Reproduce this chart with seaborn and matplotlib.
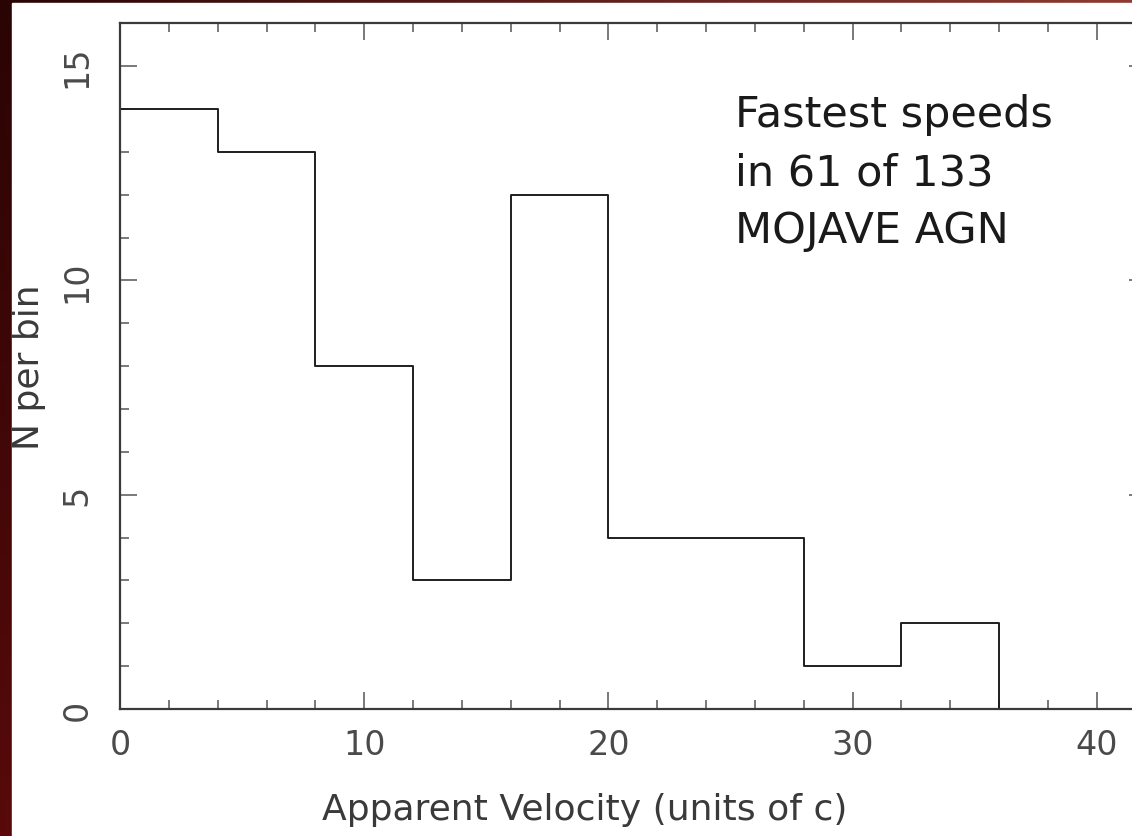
import numpy as np
import pandas as pd
import matplotlib
matplotlib.use("Agg")
import matplotlib.pyplot as plt
from matplotlib.ticker import MultipleLocator
from matplotlib.patches import Rectangle
import seaborn as sns

# Histogram of the fastest apparent speeds per source
bin_edges = [0, 4, 8, 12, 16, 20, 24, 28, 32, 36, 40]
counts = [14, 13, 8, 3, 12, 4, 4, 1, 2, 0]
x_ticks = [0, 10, 20, 30, 40]
y_ticks = [0, 5, 10, 15]
note_lines = ["Fastest speeds", "in 61 of 133", "MOJAVE AGN"]
x_label = "Apparent Velocity (units of c)"
y_label = "N per bin"

centers = [(a + b) / 2 for a, b in zip(bin_edges[:-1], bin_edges[1:])]
df = pd.DataFrame({"velocity": centers, "n": counts})

sns.set_theme(style="ticks")
plt.rcParams["font.family"] = ["DejaVu Sans"]

W, H = 1132, 837
fig = plt.figure(figsize=(W / 100, H / 100), dpi=100)

# dark red slide frame with a soft gradient
bg = fig.add_axes([0, 0, 1, 1], zorder=0)
bg.set_axis_off()
tl = np.array([0x2a, 0x04, 0x04]) / 255
tr = np.array([0x8e, 0x3a, 0x32]) / 255
bl = np.array([0x58, 0x0a, 0x0a]) / 255
br = np.array([0x8e, 0x3a, 0x32]) / 255
u = np.linspace(0, 1, 200)[None, :, None]
v = np.linspace(0, 1, 200)[:, None, None]
grad = (1 - u) * (1 - v) * tl + u * (1 - v) * tr + (1 - u) * v * bl + u * v * br
bg.imshow(grad, extent=[0, 1, 0, 1], aspect="auto", origin="upper")
bg.add_patch(Rectangle((12 / W, 0), 1, (H - 4) / H, color="white", transform=bg.transAxes))
bg.set_xlim(0, 1)
bg.set_ylim(0, 1)

# plotting axes (right spine runs just past the figure edge)
left, right = 120, 1145.6
bottom, top = 710, 24.3
ax = fig.add_axes([left / W, (H - bottom) / H, (right - left) / W, (bottom - top) / H], zorder=1)
ax.set_facecolor("none")

sns.histplot(data=df, x="velocity", weights="n", bins=bin_edges, element="step",
             fill=False, color="#1e1e1e", linewidth=1.4, ax=ax)

ax.set_xlim(0, 42)
ax.set_ylim(0, 16)
ax.xaxis.set_major_locator(MultipleLocator(10))
ax.xaxis.set_minor_locator(MultipleLocator(2))
ax.yaxis.set_major_locator(MultipleLocator(5))
ax.yaxis.set_minor_locator(MultipleLocator(1))
ax.set_xticks(x_ticks)
ax.set_yticks(y_ticks)
ax.set_xticklabels([str(t) for t in x_ticks])
ax.set_yticklabels([str(t) for t in y_ticks], rotation=90, va="center")

tick_color = "#555555"
for side in ["left", "right", "top", "bottom"]:
    ax.spines[side].set_visible(True)
    ax.spines[side].set_color("#3a3a3a")
    ax.spines[side].set_linewidth(1.6)
ax.tick_params(which="both", direction="in", top=True, right=True, color=tick_color, width=1.1)
ax.tick_params(which="major", length=12)
ax.tick_params(which="minor", length=6.5)
ax.tick_params(axis="x", which="major", pad=14, labelsize=24, labelcolor="#4a4a4a")
ax.tick_params(axis="y", which="major", pad=19, labelsize=24, labelcolor="#4a4a4a")

ax.set_xlabel(x_label, fontsize=26, color="#3a3a3a")
ax.set_ylabel(y_label, fontsize=26, color="#3a3a3a")
ax.xaxis.set_label_coords((585 - left) / (right - left), -(810 - bottom) / (bottom - top))
ax.xaxis.label.set_va("center")
ax.yaxis.set_label_coords((29 - left) / (right - left), 0.5)
ax.yaxis.label.set_va("center")

# annotation block, one text per line on its own baseline
for line, base in zip(note_lines, [127, 185, 243]):
    fig.text(735 / W, (H - base) / H, line, fontsize=31, color="#1a1a1a",
             ha="left", va="baseline", zorder=3)

fig.savefig("out.png", dpi=100)
